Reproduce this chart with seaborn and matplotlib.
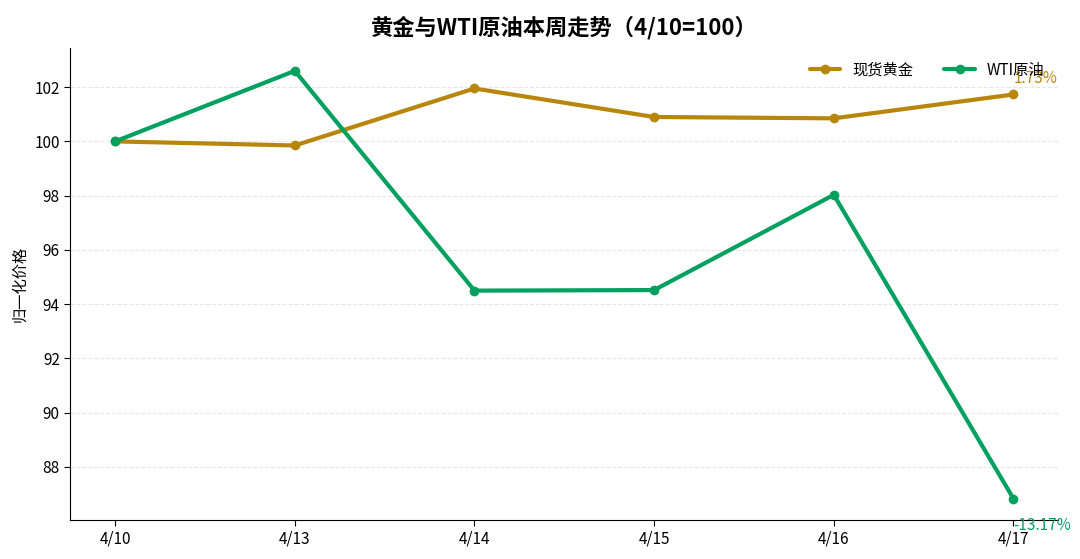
import matplotlib
matplotlib.use("Agg")
import matplotlib.pyplot as plt
import seaborn as sns
import pandas as pd

dates = ["4/10", "4/13", "4/14", "4/15", "4/16", "4/17"]
gold = [100.0, 99.85, 101.95, 100.9, 100.85, 101.73]
wti = [100.0, 102.6, 94.5, 94.52, 98.03, 86.83]
gold_label = "1.73%"
wti_label = "-13.17%"

sns.set_style("white")
plt.rcParams['font.family'] = ['Noto Sans CJK SC', 'DejaVu Sans']
plt.rcParams['text.color'] = 'black'
plt.rcParams['axes.labelcolor'] = 'black'
plt.rcParams['xtick.color'] = 'black'
plt.rcParams['ytick.color'] = 'black'

df = pd.DataFrame({"date": dates * 2, "value": gold + wti,
                   "series": ["现货黄金"] * 6 + ["WTI原油"] * 6})
df["x"] = list(range(6)) * 2

fig = plt.figure(figsize=(10.8, 5.59), dpi=100)
ax = fig.add_axes([0.065, 0.07, 0.915, 0.844])
palette = {"现货黄金": "#B8860B", "WTI原油": "#00A060"}
sns.lineplot(data=df, x="x", y="value", hue="series", palette=palette,
             marker="o", markersize=7, markeredgewidth=0, linewidth=3, ax=ax)
ax.set_xticks(range(6))
ax.set_xticklabels(dates, fontsize=11)
ax.set_xlim(-0.25, 5.25)
ax.set_ylim(86.05, 103.44)
ax.set_yticks([88, 90, 92, 94, 96, 98, 100, 102])
ax.tick_params(axis="y", labelsize=11, left=True, length=4)
ax.tick_params(axis="x", bottom=True, length=4)
ax.set_xlabel("")
ax.set_ylabel("归一化价格", fontsize=11)
ax.yaxis.grid(True, linestyle="--", color="#e6e6e6", linewidth=0.8)
ax.spines["top"].set_visible(False)
ax.spines["right"].set_visible(False)
ax.spines["left"].set_color("black")
ax.spines["bottom"].set_color("black")
ax.set_title("黄金与WTI原油本周走势（4/10=100）", fontsize=16, fontweight="bold", pad=10, color="black")
ax.legend(loc="upper right", frameon=False, fontsize=11, ncol=2, handlelength=2)
ax.text(5, gold[-1] + 0.6, gold_label, color="#B8860B", fontsize=11, ha="left", va="center")
ax.text(5, wti[-1] - 1.0, wti_label, color="#00A060", fontsize=11, ha="left", va="center")
fig.savefig("out.png", dpi=100)
